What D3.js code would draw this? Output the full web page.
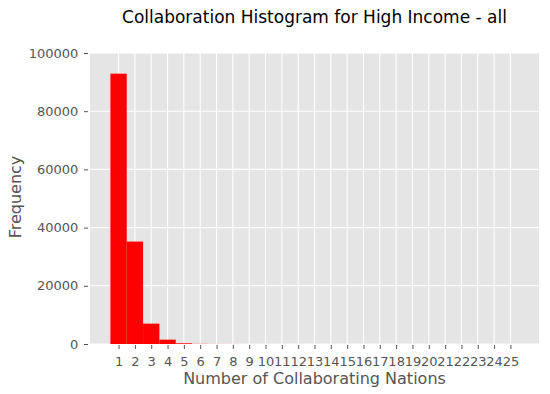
<!DOCTYPE html>
<html>
<head>
<meta charset="utf-8">
<script src="https://cdn.jsdelivr.net/npm/d3@7/dist/d3.min.js"></script>
<style>
  html, body { margin: 0; padding: 0; background: #fff; }
  svg { display: block; }
  text { font-family: "DejaVu Sans", sans-serif; }
</style>
</head>
<body>
<svg id="chart" width="550" height="394"></svg>
<script>
// Data
const categories = d3.range(1, 26); // number of collaborating nations
const frequencies = [92900, 35200, 7000, 1500, 250, 60, 25, 12, 6, 4, 3, 2, 1, 1, 1, 0, 0, 0, 0, 0, 0, 0, 0, 0, 0];
const yTicks = [0, 20000, 40000, 60000, 80000, 100000];
const titleText = "Collaboration Histogram for High Income - all";
const xLabel = "Number of Collaborating Nations";
const yLabel = "Frequency";

const svg = d3.select("#chart");
const pL = 90, pR = 539, pT = 53, pB = 344;

const x = d3.scaleLinear().domain([-0.75, 26.75]).range([pL, pR]);
const y = d3.scaleLinear().domain([0, 100000]).range([pB, pT]);

// background
svg.append("rect").attr("x", pL).attr("y", pT)
  .attr("width", pR - pL).attr("height", pB - pT).attr("fill", "#e5e5e5");

// grid
const g = svg.append("g");
g.selectAll("line.vg").data(categories).enter().append("line")
  .attr("x1", d => x(d)).attr("x2", d => x(d)).attr("y1", pT).attr("y2", pB)
  .attr("stroke", "#fff").attr("stroke-width", 1.1);
g.selectAll("line.hg").data(yTicks).enter().append("line")
  .attr("x1", pL).attr("x2", pR).attr("y1", d => y(d)).attr("y2", d => y(d))
  .attr("stroke", "#fff").attr("stroke-width", 1.1);

// bars
svg.append("g").selectAll("rect").data(categories).enter().append("rect")
  .attr("x", d => x(d - 0.5))
  .attr("width", d => x(d + 0.5) - x(d - 0.5))
  .attr("y", (d, i) => y(frequencies[i]))
  .attr("height", (d, i) => y(0) - y(frequencies[i]))
  .attr("fill", "#ff0000");

// axes
const xAxis = d3.axisBottom(x).tickValues(categories).tickSize(4).tickPadding(7.7).tickFormat(d3.format("d"));
const yAxis = d3.axisLeft(y).tickValues(yTicks).tickSize(4).tickPadding(5.7).tickFormat(d3.format("d"));

const xa = svg.append("g").attr("transform", `translate(0,${pB + 1})`).call(xAxis);
const ya = svg.append("g").attr("transform", `translate(${pL - 2},0)`).call(yAxis);
[xa, ya].forEach(a => {
  a.select(".domain").remove();
  a.selectAll(".tick line").attr("stroke", "#555").attr("stroke-width", 1);
  a.selectAll(".tick text").attr("fill", "#555").style("font-size", "13px").style("font-family", "DejaVu Sans");
});

// labels
svg.append("text").attr("x", (pL + pR) / 2).attr("y", 23)
  .attr("text-anchor", "middle").style("font-size", "17px").attr("fill", "#000")
  .text(titleText);
svg.append("text").attr("x", (pL + pR) / 2).attr("y", 383.5)
  .attr("text-anchor", "middle").style("font-size", "16px").attr("fill", "#555")
  .text(xLabel);
svg.append("text").attr("transform", `translate(20.7,197) rotate(-90)`)
  .attr("text-anchor", "middle").style("font-size", "16px").attr("fill", "#555")
  .text(yLabel);
</script>
</body>
</html>
